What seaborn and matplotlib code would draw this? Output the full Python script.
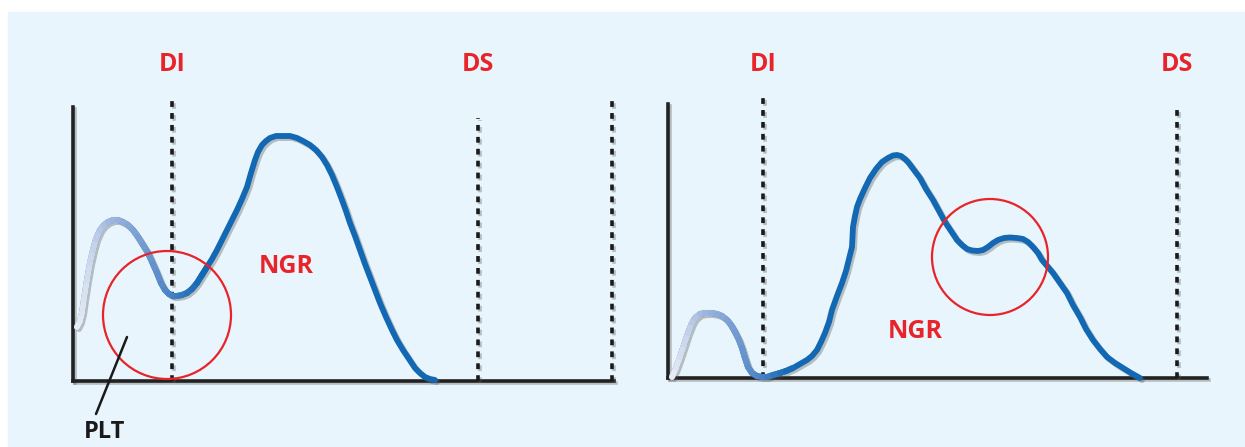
import numpy as np
import pandas as pd
import seaborn as sns
import matplotlib.pyplot as plt
from matplotlib.collections import LineCollection
from matplotlib.colors import LinearSegmentedColormap
from matplotlib.patches import Circle, Rectangle
import matplotlib.patheffects as pe

# curves (channel offset, height above baseline)
left_x = [4, 7, 9, 11, 14, 17, 20, 23, 27, 31, 35, 40, 45, 50, 55, 60, 65, 70, 75,
          80, 84, 88, 92, 96, 100, 104, 109, 114, 119, 124, 129, 134, 139, 144, 149,
          154, 159, 164, 169, 174, 178, 182, 185, 189, 193, 197, 203, 210, 217, 224,
          230, 237, 243, 249, 254, 259, 264, 269, 273, 277, 282, 287, 292, 297, 302,
          307, 313, 319, 324, 330, 336, 342, 347, 352, 357, 362]
left_y = [54, 60, 68, 82, 101, 118, 131, 142, 151, 156, 159, 161, 161, 159, 156, 151,
          144, 136, 128, 117, 108, 98, 91, 87, 85, 85, 86, 88, 92, 98, 106, 114, 122,
          131, 141, 151, 161, 171, 182, 194, 208, 221, 229, 236, 240, 243, 245, 245,
          245, 243, 240, 236, 231, 224, 216, 206, 194, 181, 170, 158, 145, 131, 117,
          104, 91, 78, 64, 51, 41, 31, 22, 13, 8, 4, 2, 1]

right_x = [4, 8, 12, 16, 20, 24, 27, 32, 37, 43, 49, 54, 59, 63, 67, 71, 74, 77, 80,
           84, 89, 94, 99, 105, 112, 118, 125, 132, 139, 144, 149, 153, 157, 161, 164,
           169, 174, 178, 180, 182, 184, 184.5, 185, 187, 189, 192, 197, 202, 208, 214,
           220, 225, 229, 233, 237, 240, 246, 252, 258, 265, 271, 277, 283, 289, 294,
           299, 304, 310, 315, 320, 325, 330, 336, 342, 349, 355, 360, 365, 370, 374,
           380, 385, 392, 399, 405, 412, 418, 425, 432, 439, 447, 455, 463, 472]
right_y = [1, 10, 21, 33, 45, 55, 60, 64, 65, 65, 64, 62, 58, 53, 46, 38, 30, 20, 11,
           5, 2, 1, 1, 3, 5, 7, 10, 14, 18, 22, 28, 36, 45, 56, 68, 82, 95, 107, 115,
           123, 131, 141, 151, 162, 171, 179, 190, 200, 209, 216, 220, 222.5, 223, 222,
           219, 216, 208, 200, 189, 178, 167, 156, 147, 138, 133, 129, 127.5, 127, 128,
           131, 135, 138, 140, 140.5, 140, 139, 136, 131, 125, 118, 111, 105, 95, 85,
           73, 61, 49, 38, 29, 21, 15, 10, 5, 0]

# gate markers: (x, top of dotted line)
left_gates_x = [99, 405, 539]
left_gates_top = [281, 263, 281]
right_gates_x = [95, 509]
right_gates_top = [282, 271]

left_labels = ["DI", "DS"]
right_labels = ["DI", "DS"]

BLUE = "#1268B3"
RED = "#E8232A"
BG = "#E9F5FC"

sns.set_theme(style="white")
plt.rcParams["font.family"] = ["Open Sans", "DejaVu Sans"]

fig = plt.figure(figsize=(12.45, 4.47), dpi=100)
fig.patch.set_facecolor("white")
fig.patches.append(Rectangle((8 / 1245, 0), 1, (447 - 12) / 447,
                             transform=fig.transFigure, color=BG, zorder=-10))

shadow = [pe.SimpleLineShadow(offset=(1.5, -1.5), shadow_color="#555555", alpha=0.35),
          pe.Normal()]


def panel(rect, x, y, fade_end, gates_x, gates_top, ytop, xlen, labels, label_y):
    ax = fig.add_axes(rect)
    ax.set_facecolor("none")
    ax.set_xlim(0, 560)
    ax.set_ylim(-10, 320)
    ax.set_xticks([])
    ax.set_yticks([])
    sns.despine(ax=ax)
    for s in ["left", "bottom"]:
        ax.spines[s].set_position(("data", 0))
        ax.spines[s].set_color("#222222")
        ax.spines[s].set_linewidth(2.6)
        ax.spines[s].set_path_effects(shadow)
    ax.spines["left"].set_bounds(0, ytop)
    ax.spines["bottom"].set_bounds(0, xlen)

    df = pd.DataFrame({"x": x, "y": y})
    sns.lineplot(data=df, x="x", y="y", ax=ax, sort=False, color=BLUE, lw=4.2,
                 solid_capstyle="round", solid_joinstyle="round", zorder=4,
                 path_effects=shadow)
    ax.set_xlabel("")
    ax.set_ylabel("")

    # faded start of the curve
    xs = np.array(x, float)
    ys = np.array(y, float)
    n = int(np.searchsorted(xs, fade_end)) + 1
    pts = np.column_stack([xs[:n], ys[:n]]).reshape(-1, 1, 2)
    segs = np.concatenate([pts[:-1], pts[1:]], axis=1)
    cmap = LinearSegmentedColormap.from_list(
        "fade", ["#ECEEF6", "#A5BBE0", "#7A9FD3", "#4A83C5", BLUE])
    mid = (xs[:n - 1] + xs[1:n]) / 2
    lc = LineCollection(segs, colors=cmap((mid - xs[0]) / (fade_end - xs[0])),
                        linewidths=4.4, capstyle="round", joinstyle="round", zorder=5)
    ax.add_collection(lc)

    for gx, gt in zip(gates_x, gates_top):
        ax.plot([gx, gx], [0, gt], color="#1a1a1a", lw=2.6, dashes=(1.6, 1.7),
                zorder=3, path_effects=shadow, solid_capstyle="butt")
    for gx, lab in zip(gates_x, labels):
        ax.text(gx, label_y, lab, color=RED, fontsize=18, fontweight="bold",
                ha="center", va="baseline", clip_on=False)
    return ax


ax1 = panel([73 / 1245, 56 / 447, 560 / 1245, 330 / 447], left_x, left_y, 130,
            left_gates_x, left_gates_top, 274, 541, left_labels, 310)
ax1.add_patch(Circle((94, 66), 64, fill=False, ec=RED, lw=1.6, zorder=6))
ax1.text(213, 108, "NGR", color=RED, fontsize=18, fontweight="bold",
         ha="center", va="baseline")
ax1.plot([54, 23], [44, -33], color="#1a1a1a", lw=1.8, clip_on=False, zorder=6)
ax1.text(32, -57, "PLT", color="#1a1a1a", fontsize=17, fontweight="bold",
         ha="center", va="baseline", clip_on=False)

ax2 = panel([668 / 1245, 59 / 447, 560 / 1245, 330 / 447], right_x, right_y, 125,
            right_gates_x, right_gates_top, 274, 539, right_labels, 307)
ax2.add_patch(Circle((322, 121), 58, fill=False, ec=RED, lw=1.6, zorder=6))
ax2.text(247, 40, "NGR", color=RED, fontsize=18, fontweight="bold",
         ha="center", va="baseline")

plt.savefig("out.png", dpi=100)
